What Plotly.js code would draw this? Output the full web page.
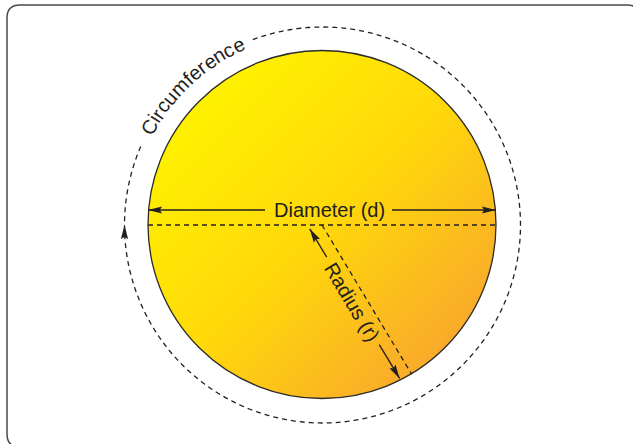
<!DOCTYPE html>
<html><head><meta charset="utf-8">
<script src="https://cdn.plot.ly/plotly-3.0.1.min.js"></script>
<style>html,body{margin:0;padding:0;background:#fff;overflow:hidden}</style>
</head><body><div id="chart" style="width:633px;height:444px"></div>
<script>
// ---- diagram values (pixel-like units, y grows downward) ----
const circleCenter = [322, 224.5];
const circleRadius = 174;
const outerCenter = [322.5, 225];
const outerRadius = 198;
const outerGap = [110.6, 155.6];          // degrees (math), gap left for the label
const outerArrowAngle = [180];            // arrow on the outer arc (degrees)
const diameterY = [225];                  // dashed diameter
const diameterArrowY = [210];             // solid arrow line
const diameterTextGap = [265, 392];
const radiusAngle = [59];                 // degrees below horizontal
const radiusArrowSpan = [-3, 171.5];      // along the radius
const radiusArrowOffset = [12.5];
const radiusTextGap = [30, 132];
const labelTexts = ['Diameter (d)', 'Radius (r)', 'Circumference'];
const labelPos = [[329.5, 210], [81.5, 14]]; // diameter (x,y); radius (along, perp)
const circLabel = [133.0, 199, 1.05];     // mid angle, radius, spacing factor
const gradientColors = ['#FFF100', '#FFD80A', '#F9AA2B'];
const borderBox = [7, 5, 640, 447, 13];

const ink = '#231F20';
const font = 'Liberation Sans, Arial, Helvetica, sans-serif';
const [cx, cy] = circleCenter, R = circleRadius;
const [ox, oy] = outerCenter, OR = outerRadius;
const rad = d => d * Math.PI / 180;

function arcPts(x0, y0, r, a0, a1, n) {
  const pts = [];
  for (let i = 0; i <= n; i++) {
    const a = rad(a0 + (a1 - a0) * i / n);
    pts.push([x0 + r * Math.cos(a), y0 - r * Math.sin(a)]);
  }
  return pts;
}
const toPath = (pts, close) => pts.map((p, i) => (i ? 'L' : 'M') + p[0].toFixed(2) + ',' + p[1].toFixed(2)).join(' ') + (close ? ' Z' : '');

function arrowHead(tip, dir, len = 14, hw = 3.6) {
  const n = Math.hypot(dir[0], dir[1]); const ux = dir[0] / n, uy = dir[1] / n;
  const bx = tip[0] - ux * len, by = tip[1] - uy * len;
  const nx = tip[0] - ux * len * 0.85, ny = tip[1] - uy * len * 0.85;
  const px = -uy, py = ux;
  return {type: 'path', xref: 'x', yref: 'y', fillcolor: ink, line: {width: 0},
    path: `M${tip[0]},${tip[1]} L${bx + px * hw},${by + py * hw} L${nx},${ny} L${bx - px * hw},${by - py * hw} Z`};
}
const seg = (x0, y0, x1, y1, dash) => ({type: 'line', xref: 'x', yref: 'y', x0, y0, x1, y1,
  line: {color: ink, width: 1.3, dash: dash || 'solid'}});

// gradient fill
const heat = {
  type: 'heatmap', x: [cx - R, cx + R], y: [cy - R, cy + R], z: [[0, 0.5], [0.5, 1]],
  zmin: 0, zmax: 1, zsmooth: 'best', showscale: false, hoverinfo: 'skip',
  colorscale: [[0, gradientColors[0]], [0.146, gradientColors[0]], [0.5, gradientColors[1]],
               [0.854, gradientColors[2]], [1, gradientColors[2]]]
};

const shapes = [];
// white mask outside the circle
shapes.push({type: 'path', xref: 'x', yref: 'y', fillcolor: '#ffffff', fillrule: 'evenodd', line: {width: 0},
  path: 'M-30,-30 L670,-30 L670,480 L-30,480 Z ' + toPath(arcPts(cx, cy, R, 0, 360, 240), true)});
// circle outline
shapes.push({type: 'circle', xref: 'x', yref: 'y', x0: cx - R, x1: cx + R, y0: cy - R, y1: cy + R,
  line: {color: '#2b2b2b', width: 1.3}});
// dashed diameter
shapes.push(seg(cx - R, diameterY[0], cx + R, diameterY[0], '5px,4px'));
// dashed radius
const ua = [Math.cos(rad(radiusAngle[0])), Math.sin(rad(radiusAngle[0]))];
const up = [-ua[1], ua[0]];
shapes.push(seg(cx, diameterY[0], cx + ua[0] * R, diameterY[0] + ua[1] * R, '5px,4px'));
// diameter arrow
const dy = diameterArrowY[0];
shapes.push(seg(cx - R, dy, diameterTextGap[0], dy));
shapes.push(seg(diameterTextGap[1], dy, cx + R, dy));
shapes.push(arrowHead([cx - R, dy], [-1, 0]));
shapes.push(arrowHead([cx + R, dy], [1, 0]));
// radius arrow
const rp = (along, perp) => [cx + ua[0] * along + up[0] * perp, diameterY[0] + ua[1] * along + up[1] * perp];
const off = radiusArrowOffset[0];
const rs = rp(radiusArrowSpan[0], off), re = rp(radiusArrowSpan[1], off);
const g0 = rp(radiusTextGap[0], off), g1 = rp(radiusTextGap[1], off);
shapes.push(seg(rs[0], rs[1], g0[0], g0[1]));
shapes.push(seg(g1[0], g1[1], re[0], re[1]));
shapes.push(arrowHead(rs, [-ua[0], -ua[1]]));
shapes.push(arrowHead(re, ua));
// outer dashed arc (clockwise from gap end, round to gap start)
shapes.push({type: 'path', xref: 'x', yref: 'y', line: {color: ink, width: 1.3, dash: '5px,4px'},
  path: toPath(arcPts(ox, oy, OR, outerGap[0], outerGap[1] - 360, 400), false)});
const oa = rad(outerArrowAngle[0]);
shapes.push(arrowHead([ox + OR * Math.cos(oa), oy - OR * Math.sin(oa)], [Math.sin(oa), Math.cos(oa)]));
// rounded border
const [bx0, by0, bx1, by1, br] = borderBox;
shapes.push({type: 'path', xref: 'x', yref: 'y', line: {color: '#4a4a4a', width: 1.5},
  path: `M${bx0 + br},${by0} L${bx1 - br},${by0} Q${bx1},${by0} ${bx1},${by0 + br} L${bx1},${by1 - br} Q${bx1},${by1} ${bx1 - br},${by1} L${bx0 + br},${by1} Q${bx0},${by1} ${bx0},${by1 - br} L${bx0},${by0 + br} Q${bx0},${by0} ${bx0 + br},${by0} Z`});

// annotations
const annotations = [];
const tfont = {family: font, size: 20, color: ink};
annotations.push({x: labelPos[0][0], y: labelPos[0][1], text: labelTexts[0], showarrow: false, font: tfont,
  xanchor: 'center', yanchor: 'middle'});
const rt = rp(labelPos[1][0], labelPos[1][1]);
annotations.push({x: rt[0], y: rt[1], text: labelTexts[1], showarrow: false, font: tfont,
  textangle: radiusAngle[0], xanchor: 'center', yanchor: 'middle'});
// curved label along the outer circle, one glyph at a time
const ctx = document.createElement('canvas').getContext('2d');
ctx.font = '20px "Liberation Sans", Arial, sans-serif';
const chars = labelTexts[2].split('');
const widths = chars.map(c => ctx.measureText(c).width);
const total = widths.reduce((a, b) => a + b, 0);
let acc = 0;
chars.forEach((c, i) => {
  const s = (acc + widths[i] / 2 - total / 2) * circLabel[2];
  acc += widths[i];
  const th = circLabel[0] - (s / circLabel[1]) * 180 / Math.PI;
  annotations.push({x: ox + circLabel[1] * Math.cos(rad(th)), y: oy - circLabel[1] * Math.sin(rad(th)),
    text: c, showarrow: false, font: tfont, textangle: 90 - th, xanchor: 'center', yanchor: 'middle'});
});

const layout = {
  width: 633, height: 444, margin: {l: 0, r: 0, t: 0, b: 0},
  paper_bgcolor: '#ffffff', plot_bgcolor: '#ffffff', showlegend: false,
  xaxis: {range: [0, 633], visible: false, fixedrange: true},
  yaxis: {range: [444, 0], visible: false, fixedrange: true},
  shapes, annotations
};
Plotly.newPlot('chart', [heat], layout, {displayModeBar: false, staticPlot: true});
</script></body></html>
